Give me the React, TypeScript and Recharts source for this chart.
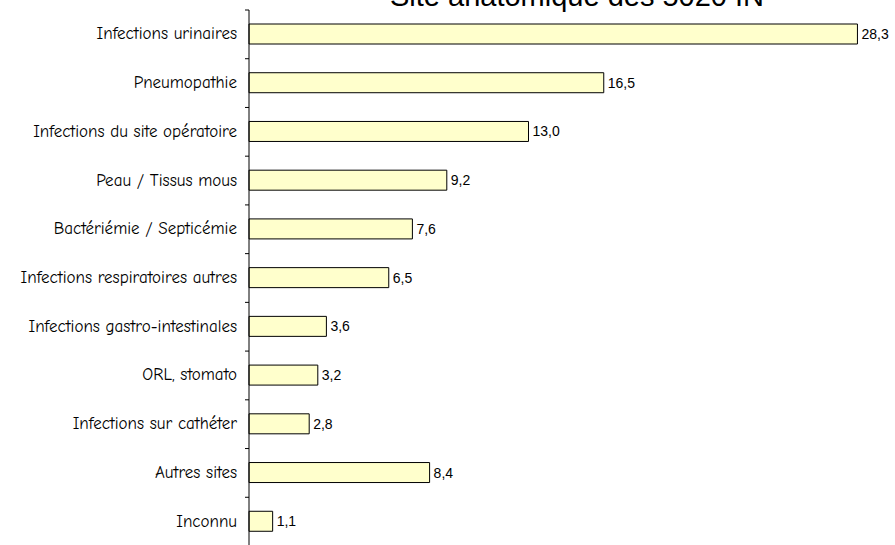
import React from "react";
import {BarChart, Bar, XAxis, YAxis, LabelList} from "recharts";

const categories = [
  "Infections urinaires",
  "Pneumopathie",
  "Infections du site opératoire",
  "Peau / Tissus mous",
  "Bactériémie / Septicémie",
  "Infections respiratoires autres",
  "Infections gastro-intestinales",
  "ORL, stomato",
  "Infections sur cathéter",
  "Autres sites",
  "Inconnu",
];

const percents = [28.3, 16.5, 13.0, 9.2, 7.6, 6.5, 3.6, 3.2, 2.8, 8.4, 1.1];

const title = "Site anatomique des 5020 IN";

const data = categories.map((name, i) => ({name, value: percents[i]}));

const W = 895;
const H = 560;
const AXIS_X = 249;
const MARGIN = {top: 10, right: 1, bottom: 14, left: 0};
const BAND = (H - MARGIN.top - MARGIN.bottom) / categories.length;

const labelFont = "'Comic Sans MS', 'Comic Neue', 'DejaVu Sans', sans-serif";

// Excel-like tick: label at band centre, tick mark at band boundary
function CategoryTick({y, payload}: {y?: number; payload?: {value: string}}) {
  const yy = y ?? 0;
  return (
    <g>
      <line x1={AXIS_X - 4} x2={AXIS_X} y1={yy - BAND / 2} y2={yy - BAND / 2} stroke="#000" />
      <text
        x={AXIS_X - 12}
        y={yy}
        dy={5}
        textAnchor="end"
        fontFamily={labelFont}
        fontSize={17}
        fill="#000"
      >
        {payload?.value}
      </text>
    </g>
  );
}

export default function App() {
  return (
    <div
      style={{
        position: "fixed",
        top: 0,
        left: 0,
        width: W,
        height: 545,
        overflow: "hidden",
        background: "#fff",
      }}
    >
      <BarChart width={W} height={H} data={data} layout="vertical" margin={MARGIN}>
        <XAxis type="number" domain={[0, 30]} hide />
        <YAxis
          type="category"
          dataKey="name"
          width={AXIS_X}
          axisLine={{stroke: "#000"}}
          tickLine={false}
          tick={<CategoryTick />}
          interval={0}
        />
        <Bar
          dataKey="value"
          fill="#FFFFCC"
          stroke="#000"
          strokeWidth={1}
          barSize={20}
          isAnimationActive={false}
        >
          <LabelList
            dataKey="value"
            position="right"
            offset={4}
            fill="#000"
            fontSize={14}
            fontFamily="'Liberation Sans', Arial, sans-serif"
            formatter={(v: number) => v.toFixed(1).replace(".", ",")}
          />
        </Bar>
      </BarChart>
      <svg
        width={W}
        height={40}
        style={{position: "absolute", top: 0, left: 0, pointerEvents: "none"}}
      >
        <text
          x={577}
          y={6}
          textAnchor="middle"
          fontFamily="'Liberation Sans', Arial, sans-serif"
          fontSize={29}
          fill="#000"
        >
          {title}
        </text>
      </svg>
    </div>
  );
}
